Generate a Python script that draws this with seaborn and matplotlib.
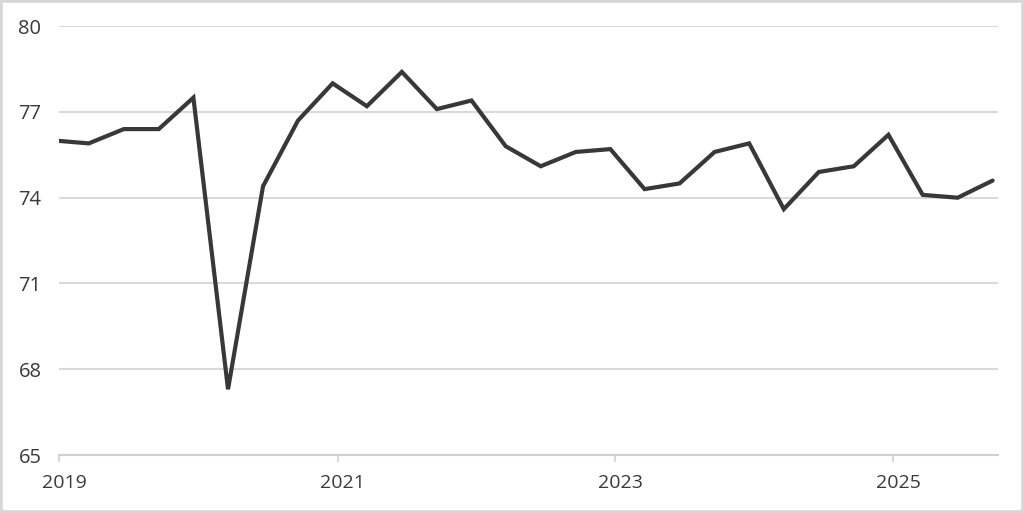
import pandas as pd
import matplotlib
matplotlib.use("Agg")
import matplotlib.pyplot as plt
import matplotlib.dates as mdates
from matplotlib.transforms import ScaledTranslation
from matplotlib.patches import Rectangle
import seaborn as sns

# quarterly readings
dates = pd.date_range("2018-12-19", periods=28, freq=pd.DateOffset(months=3))
values = [76.0, 75.9, 76.4, 76.4, 77.5, 67.3, 74.4, 76.7,
          78.0, 77.2, 78.4, 77.1, 77.4, 75.8, 75.1, 75.6,
          75.7, 74.3, 74.5, 75.6, 75.9, 73.6, 74.9, 75.1,
          76.2, 74.1, 74.0, 74.6]
y_ticks = [65, 68, 71, 74, 77, 80]
x_tick_years = ["2019", "2021", "2023", "2025"]

df = pd.DataFrame({"date": dates, "value": values})

sns.set_style("white")
plt.rcParams["font.family"] = ["Open Sans", "DejaVu Sans"]

fig = plt.figure(figsize=(10.24, 5.13), dpi=100)
ax = fig.add_axes([0.0581, 0.113, 0.9165, 0.836])

sns.lineplot(data=df, x="date", y="value", ax=ax, color="#383838",
             linewidth=3.0, solid_joinstyle="miter")

ax.set_xlim(pd.Timestamp("2019-01-01"), pd.Timestamp("2025-10-03"))
ax.set_ylim(65, 80)
ax.set_yticks(y_ticks)
ax.set_xticks([pd.Timestamp(y + "-01-01") for y in x_tick_years])
ax.xaxis.set_major_formatter(mdates.DateFormatter("%Y"))

ax.grid(axis="y", color="#d9d9d9", linewidth=1.5)
ax.grid(axis="x", visible=False)
ax.set_axisbelow(True)
for s in ["top", "right", "left"]:
    ax.spines[s].set_visible(False)
ax.spines["bottom"].set_color("#d0d0d0")
ax.spines["bottom"].set_linewidth(1.5)

ax.tick_params(axis="y", length=0, pad=13, labelsize=14.5, labelcolor="#3a3a3a")
ax.tick_params(axis="x", length=5, width=1.2, color="#d0d0d0", pad=9,
               labelsize=14, labelcolor="#3a3a3a", direction="out", bottom=True)
for lab in ax.get_xticklabels():
    lab.set_transform(lab.get_transform() + ScaledTranslation(0.05, 0, fig.dpi_scale_trans))
ax.set_xlabel("")
ax.set_ylabel("")

fig.patches.append(Rectangle((0, 0), 1, 1, transform=fig.transFigure, fill=False,
                             edgecolor="#d6d6d6", linewidth=4))

fig.savefig("out.png", dpi=100)
